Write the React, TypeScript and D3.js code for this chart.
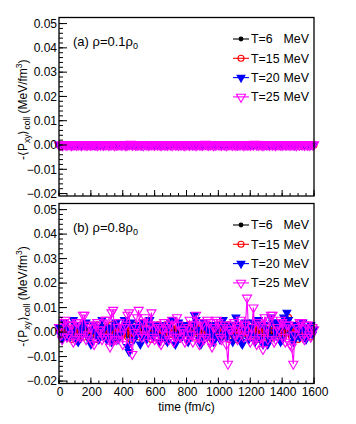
import * as d3 from 'd3'

// time grids (fm/c)
const times10 = d3.range(0, 1601, 10)
const times20 = d3.range(0, 1601, 20)
const labels = ['T=6', 'T=15', 'T=20', 'T=25']
const colors = ['#000000', '#ff0000', '#0000ff', '#ff00ff']
const yTicks = [-0.02, -0.01, 0, 0.01, 0.02, 0.03, 0.04, 0.05]
const xTicks = [0, 200, 400, 600, 800, 1000, 1200, 1400, 1600]

// values in units of 1e-3 MeV/fm^3, panel (a) rho=0.1rho0
const a6 = [
  0, 0.05, -0.05, 0, 0.05, 0, -0.05, 0, 0.05, 0,
  -0.05, 0, 0.05, 0, 0, -0.05, 0.05, 0, -0.05, 0,
  0.05, 0, -0.05, 0.05, 0, 0, -0.05, 0.05, 0, 0,
  0, -0.05, 0.05, 0, -0.05, 0.05, 0, 0, 0.05, -0.05,
  0, 0.05, 0, -0.05, 0, 0.05, -0.05, 0, 0.05, 0,
  -0.05, 0, 0.05, 0, 0, -0.05, 0.05, 0, -0.05, 0.05,
  0, 0, -0.05, 0.05, 0, -0.05, 0, 0.05, 0, -0.05,
  0.05, 0, 0, -0.05, 0.05, 0, -0.05, 0, 0.05, 0,
  0,
]
const a15 = [
  0, 0.1, -0.1, 0, 0.1, 0, -0.1, 0.1, 0, -0.1,
  0.1, 0, -0.1, 0.1, 0, 0.1, -0.1, 0, 0.1, 0,
  -0.1, 0.1, 0, 0, 0.1, -0.1, 0, 0.1, -0.1, 0,
  0.1, 0, -0.1, 0.1, 0, -0.1, 0.1, 0, 0, 0.1,
  -0.1, 0, 0.1, 0, -0.1, 0.1, 0, 0.1, -0.1, 0,
  0.1, -0.1, 0, 0.1, 0, 0, -0.1, 0.1, 0, -0.1,
  0, 0.1, -0.1, 0, 0.1, 0, -0.1, 0.1, 0, 0.1,
  -0.1, 0, 0.1, 0, -0.1, 0.1, 0, -0.1, 0.1, 0,
  0,
]
const a20 = [
  -0.1, 0.1, 0, 0.2, -0.1, 0, 0.1, -0.2, 0.1, 0,
  0.1, -0.1, 0.2, 0, -0.2, 0.1, 0, 0.1, -0.1, 0.2,
  0, -0.1, 0.1, 0.2, -0.1, 0, -0.2, 0.1, 0, 0.1,
  -0.1, 0.2, 0, -0.1, 0.1, 0, 0.2, -0.1, 0, 0.1,
  0.1, 0, -0.1, 0.2, 0, -0.2, 0.1, 0, 0.1, -0.1,
  0, 0.2, -0.1, 0, 0.1, 0.1, -0.2, 0, 0.2, -0.1,
  0.1, 0, -0.1, 0.1, 0.2, -0.1, 0, 0.1, -0.1, 0,
  0.2, -0.1, 0, 0.1, -0.2, 0.1, 0, 0.2, -0.1, 0,
  0.1,
]
const a25 = [
  0.1, 0, -0.2, 0.2, 0.1, -0.1, 0.3, 0, -0.2, 0.1,
  0.2, -0.1, 0, 0.3, -0.2, 0.1, 0.2, -0.1, 0, 0.1,
  -0.1, 0.2, 0.3, 0, -0.2, 0.1, 0, 0.2, -0.1, 0.1,
  0.3, -0.1, 0, 0.2, 0.1, -0.2, 0.1, 0, 0.3, -0.1,
  0.1, 0.2, -0.2, 0, 0.1, 0.4, -0.1, 0.2, 0, -0.1,
  0.2, 0, 0.1, -0.2, 0.3, 0.1, -0.1, 0, 0.2, 0.1,
  -0.1, 0.3, 0, 0.1, -0.2, 0.2, 0.1, 0, -0.1, 0.2,
  0.1, -0.2, 0.3, 0, 0.1, -0.1, 0.2, 0.1, 0, -0.2,
  0.2, 0.1, -0.1, 0.3, 0, 0.1, -0.2, 0.2, 0.1, 0,
  -0.1, 0.2, 0.4, 0, -0.1, 0.1, 0.2, -0.2, 0, 0.1,
  0.3, 0, -0.1, 0.2, 0.1, -0.2, 0, 0.3, 0.1, -0.1,
  0.2, -0.1, 0.1, 0, 0.3, 0.1, -0.2, 0.2, 0, 0.1,
  -0.1, 0.2, 0, 0.4, 0.1, -0.1, 0.2, 0, -0.2, 0.1,
  0.3, 0.1, -0.1, 0.2, 0, 0.1, -0.2, 0.3, 0.1, 0,
  -0.1, 0.2, 0.1, 0, 0.3, -0.1, 0.2, 0, 0.1, -0.2,
  0.2, 0, 0.3, 0.1, -0.1, 0.2, 0, -0.1, 0.3, 0.1,
  0.2,
]

// panel (b) rho=0.8rho0
const b6 = [
  0.5, 1, -0.5, -1, 1, 0.5, 1.5, -0.5, -1, 0.5,
  -0.5, 1, 0.5, -1, 1, 1.5, -0.5, 0, 1, -1.5,
  1, 0, -0.5, 1, 0.5, -1, 1.5, 0.5, -1, 1,
  0.5, -1, 1, 1.5, -1, 0, 1, -0.5, 0.5, 1.5,
  -1, 0.5, 1, -1.5, 0.5, 1, -1, 0.5, 1.5, -0.5,
  0.5, -1, 1, 1.5, -1, 0.5, -1.5, 1, 0.5, -0.5,
  -1, 1, 0.5, -1.5, 0.5, 1, -1, 1.5, 0, -0.5,
  0.5, 2, 1, -1, 1.5, -0.5, -1.5, 0.5, 1, -1,
  1.5, -0.5, 0.5, 1, -1, 0, 1.5, -1, 0.5, 1,
  -1, 0.5, 1, -0.5, 1.5, -1, 0.5, 1, -1.5, 0.5,
  1, -1, 0.5, 1.5, -0.5, 1, -1, 0, 1, -1.5,
  0.5, 1, -1, 1.5, 0.5, -0.5, 1, -1, 0.5, 1,
  -1, 1.5, 0.5, -1, 1, -0.5, 0.5, 1, -1.5, 1,
  0.5, -1, 1.5, 0, -0.5, 1, 1.5, -1, 0.5, -0.5,
  1, 2, -1, 0.5, 1.5, -1.5, 0.5, 1, -1, 0.5,
  1.5, -0.5, 1, -1, 0.5, 1, -0.5, 1.5, -1, 0.5,
  1,
]
const b15 = [
  1, 2, -2, 1, 2, -1, 3, 1, -3, -2,
  1, 2, -2, -1, 3, 2, -2, 1, -1, 2,
  -1, 1, 2, -3, 3, 1, -1, 2, 1, -2,
  2, -2, 1, 3, -3, -1, 2, 1, -2, 1,
  -1, 3, 2, -2, 1, -3, 2, 1, 3, -1,
  -2, 1, 3, 4, -1, -2, 2, 1, -3, 2,
  1, -2, 3, 1, -1, 2, -2, 3, 1, -1,
  2, -1, 1, 3, -2, -3, 2, 1, -1, 2,
  -2, 3, 1, -1, 2, -2, 3, 1, -3, 2,
  1, -1, 2, -2, 3, 1, -3, 2, 1, -1,
  2, 3, -2, 1, -1, 2, 3, -3, 1, 2,
  -2, -3, 1, 2, -1, 3, 1, -2, 2, -1,
  3, 1, -2, 2, -3, 1, 2, -1, 3, -2,
  1, 2, -3, -1, 2, 1, -2, 3, -1, 2,
  1, -2, 3, 5, 6, 1, -2, 2, -1, 3,
  -3, 1, 2, -2, 1, 3, -1, 2, -2, 1,
  2,
]
const b20 = [
  2, -1, -3, 4, 3, -2, 1, -2, 0, 5,
  3, -3, -4, 2, 1, -1, 3, 4, -2, -3,
  -5, 1, 3, 2, -1, -3, 2, 5, 1, -2,
  -3, 2, 1, -4, -2, 3, 4, -3, -1, 2,
  1, 5, 3, -6, -8, 4, 2, -3, -1, 2,
  3, -5, -2, 4, 1, -3, -1, 5, 3, -2,
  -1, 1, 3, -4, -2, 3, 1, -3, -4, 2,
  4, 5, -1, -5, -3, 4, 2, -2, 0, 3,
  1, -4, -2, -1, 3, 7, 5, 1, -3, -5,
  -2, 4, 2, -2, 1, 3, -1, -4, -2, 2,
  3, -3, -1, 5, 2, -2, 0, 3, 1, -4,
  -2, 6, 3, -2, -4, -5, 1, 4, 2, -3,
  -1, 2, 4, -4, -2, 5, 3, -3, -5, 3,
  1, -5, -3, 6, 4, -2, 0, 4, 2, -4,
  -3, 6, 3, 8, 5, 2, -1, -4, -2, 3,
  1, -2, 2, 4, 1, -3, -1, 2, 3, -1,
  1,
]
const b25 = [
  2, -1, -3, 4, 5, -2, -1, 3, 3, -4,
  -3, 4, 4, -2, -2, 7, 7, -3, -1, 3,
  2, -4, -5, 3, 4, 1, 1, -3, -2, 5,
  5, -2, -6, 8, 9, -3, -3, 2, 4, -1,
  -5, 2, 3, 7, 8, -4, -9, 0, 2, 6,
  9, -1, -2, 4, 6, 1, -4, 3, 8, -2,
  -3, 3, 2, -4, -5, 1, 4, 2, -1, -3,
  3, 5, -4, -2, 6, 3, -2, 1, 1, -4,
  -3, 2, 5, -1, -4, 3, 7, -2, -5, 4,
  3, -3, -2, 5, 4, -4, -6, 2, 2, 5,
  4, -2, -3, 2, 3, -5, -13, 1, 1, 3,
  4, -1, -3, 2, 5, 1, -2, 3, 14, -1,
  -4, 2, 10, -3, -5, 4, 3, -2, -7, 6,
  2, -3, 5, 7, 7, -4, -3, 2, 1, 5,
  4, -2, -4, 3, 3, -5, -6, -13, -1, 2,
  2, 4, 4, -2, -3, 3, 3, -1, -2, 2,
  1,
]

const W = 356
const H = 424
const L = 59
const R = 314
const FONT = "'Liberation Sans', Arial, Helvetica, sans-serif"

const x = d3.scaleLinear().domain([0, 1600]).range([L, R])
const timesFor = (s: number[]) => (s.length === times10.length ? times10 : times20)

function Marker({ k, cx, cy }: { k: number; cx: number; cy: number }) {
  const c = colors[k]
  if (k === 0) return <circle cx={cx} cy={cy} r={2.4} fill={c} />
  if (k === 1) return <circle cx={cx} cy={cy} r={3} fill="none" stroke={c} strokeWidth={1.1} />
  const tri = d3.symbol(d3.symbolTriangle, k === 2 ? 26 : 36)()
  return (
    <path
      d={tri || ''}
      transform={`translate(${cx},${cy}) rotate(180)`}
      fill={k === 2 ? c : 'none'}
      stroke={c}
      strokeWidth={1.1}
    />
  )
}

function Panel({ top, bottom, tag, rho, series, xLabels }: {
  top: number; bottom: number; tag: string; rho: string; series: number[][]; xLabels: boolean
}) {
  const y = d3.scaleLinear().domain([-0.021, 0.0525]).range([bottom, top])
  const yMinor = d3.range(-0.02, 0.0505, 0.002)
  const xMinor = d3.range(0, 1601, 50)
  const mid = (top + bottom) / 2 + 3
  return (
    <g>
      {series.map((s, k) => {
        const ts = timesFor(s)
        const line = d3.line<number>().x((_, i) => x(ts[i])).y(v => y(v / 1000))
        return (
          <g key={k}>
            <path d={line(s) || ''} fill="none" stroke={colors[k]} strokeWidth={1.1} />
            {s.map((v, i) => <Marker key={i} k={k} cx={x(ts[i])} cy={y(v / 1000)} />)}
          </g>
        )
      })}
      <rect x={L} y={top} width={R - L} height={bottom - top} fill="none" stroke="#000" strokeWidth={1.3} />
      {yMinor.map((t, i) => (
        <line key={'ym' + i} x1={L} x2={L + 4} y1={y(t)} y2={y(t)} stroke="#000" />
      ))}
      {yTicks.map(t => (
        <g key={'y' + t}>
          <line x1={L} x2={L + 8} y1={y(t)} y2={y(t)} stroke="#000" />
          <text x={57} y={y(t) + 4.3} textAnchor="end" fontSize={12} fontFamily={FONT}>
            {t < 0 ? '\u2212' + Math.abs(t).toFixed(2) : t.toFixed(2)}
          </text>
        </g>
      ))}
      {xMinor.map((t, i) => (
        <line key={'xm' + i} x1={x(t)} x2={x(t)} y1={bottom} y2={bottom - 3} stroke="#000" />
      ))}
      {xTicks.map(t => (
        <g key={'x' + t}>
          <line x1={x(t)} x2={x(t)} y1={bottom} y2={bottom - 6} stroke="#000" />
          {xLabels && (
            <text x={x(t) + 1} y={bottom + 12.5} textAnchor="middle" fontSize={12} fontFamily={FONT}>{t}</text>
          )}
        </g>
      ))}
      <text x={73} y={top + 28} fontSize={13} fontFamily={FONT}>
        {tag} {'\u03c1'}={rho}{'\u03c1'}
        <tspan fontSize={9} dy={3}>0</tspan>
      </text>
      {labels.map((lb, k) => {
        const ly = top + 21.5 + k * 19.3
        return (
          <g key={lb}>
            <line x1={233} x2={249} y1={ly} y2={ly} stroke={colors[k]} strokeWidth={1.1} />
            <Marker k={k} cx={241} cy={ly} />
            <text x={251} y={ly + 4.3} fontSize={12.4} fontFamily={FONT}>{lb}</text>
            <text x={309} y={ly + 4.3} textAnchor="end" fontSize={12.4} fontFamily={FONT}>MeV</text>
          </g>
        )
      })}
      <text transform={`translate(27,${mid}) rotate(-90)`} textAnchor="middle" fontSize={12} fontFamily={FONT}>
        -{'\u27e8'}P<tspan fontSize={8.5} dy={3}>xy</tspan>
        <tspan dy={-3}>{'\u27e9'}</tspan>
        <tspan fontSize={8.5} dy={3}>coll</tspan>
        <tspan dy={-3}> (MeV/fm</tspan>
        <tspan fontSize={8.5} dy={-5}>3</tspan>
        <tspan dy={5}>)</tspan>
      </text>
    </g>
  )
}

export default function App() {
  return (
    <svg width={W} height={H} style={{ position: 'absolute', left: 0, top: 0, background: '#fff' }}>
      <Panel top={17.5} bottom={196} tag="(a)" rho="0.1" series={[a6, a15, a20, a25]} xLabels={false} />
      <Panel top={203.5} bottom={383.5} tag="(b)" rho="0.8" series={[b6, b15, b20, b25]} xLabels={true} />
      <text x={(L + R) / 2} y={411} textAnchor="middle" fontSize={12} fontFamily={FONT}>time (fm/c)</text>
    </svg>
  )
}
